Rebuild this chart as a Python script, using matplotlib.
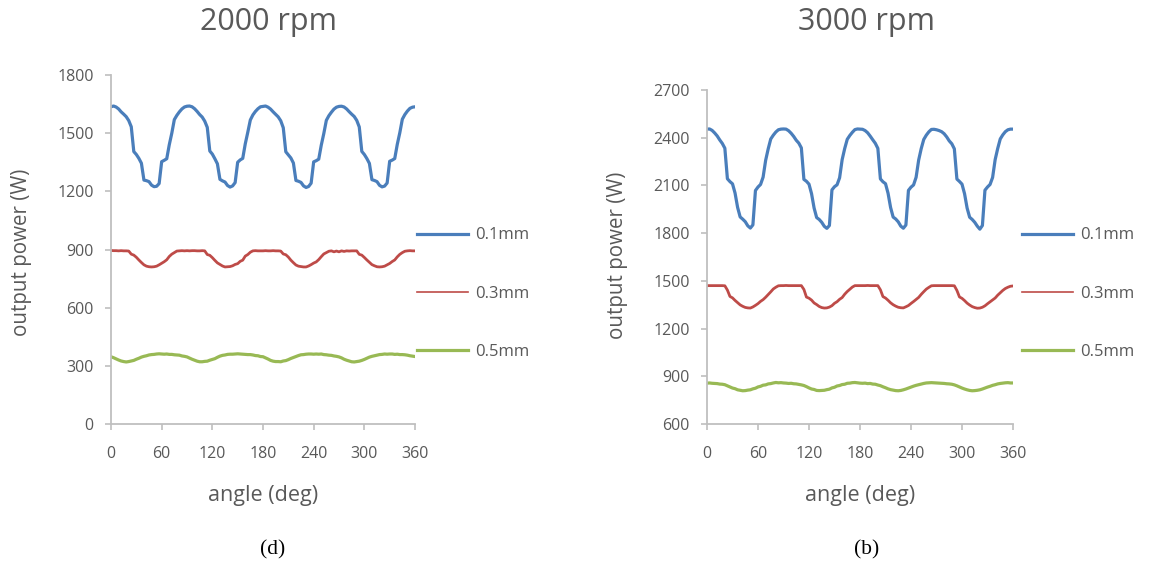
import matplotlib
matplotlib.use('Agg')
import matplotlib.pyplot as plt
from matplotlib.lines import Line2D

plt.rcParams['font.family'] = ['Open Sans', 'DejaVu Sans']

# angle grid (deg), one reading every 3 degrees
angle = list(range(0, 361, 3))

# 2000 rpm, output power (W)
p2000_01 = [1636,1640,1635,1625,1610,1598,1585,1565,1533,1405,1390,1370,1345,1258,1255,1250,1232,1224,1226,1240,1353,1360,1368,1440,1500,1570,1592,1610,1625,1635,
            1639,1640,1636,1626,1612,1596,1583,1562,1530,1408,1392,1368,1342,1262,1254,1248,1230,1222,1228,1245,1350,1362,1370,1445,1505,1568,1594,1612,1626,1636,
            1638,1640,1634,1624,1610,1597,1584,1564,1528,1404,1388,1372,1346,1256,1252,1246,1228,1220,1225,1242,1352,1358,1366,1438,1498,1566,1590,1608,1624,1634,
            1638,1639,1635,1625,1611,1598,1586,1566,1532,1406,1390,1369,1344,1260,1256,1250,1231,1223,1227,1243,1355,1361,1369,1442,1502,1572,1596,1614,1628,1634,
            1636]
p2000_03 = [895,894,894,893,894,893,893,892,876,871,860,846,833,821,814,811,810,811,814,821,829,837,847,864,876,884,892,893,894,893,
            894,893,894,894,893,893,894,893,874,870,858,844,831,823,815,810,811,812,816,823,827,839,845,866,874,886,893,894,893,893,
            893,894,893,893,894,893,893,892,877,873,861,845,832,820,814,812,810,810,815,822,830,836,848,863,877,884,891,893,888,892,
            888,893,890,893,892,893,893,893,875,871,859,846,834,822,816,811,810,811,814,821,828,838,846,862,875,884,891,893,894,893,
            893]
p2000_05 = [347,342,336,330,325,322,320,322,325,328,334,339,345,349,352,356,358,359,361,362,361,360,361,359,359,357,356,355,351,349,
            346,340,334,329,324,321,321,323,324,329,333,337,344,350,354,356,359,360,360,361,362,361,360,359,358,358,356,353,352,348,
            347,341,335,328,324,322,322,321,325,327,332,338,343,348,353,357,358,360,361,361,360,361,360,361,358,357,355,354,351,349,
            346,341,334,329,325,321,320,322,324,328,333,339,345,349,352,355,358,359,361,360,361,361,359,360,358,358,357,355,352,350,
            348]

# 3000 rpm, output power (W)
p3000_01 = [2454,2455,2446,2430,2411,2386,2364,2334,2142,2124,2110,2052,1962,1902,1888,1872,1846,1832,1852,2068,2090,2106,2152,2258,2330,2392,2416,2436,2450,2454,
            2455,2454,2444,2428,2408,2384,2366,2336,2138,2126,2108,2048,1958,1898,1886,1868,1843,1830,1848,2072,2092,2104,2148,2262,2332,2390,2414,2434,2451,2455,
            2454,2453,2445,2431,2410,2387,2365,2333,2141,2123,2111,2051,1961,1901,1889,1871,1844,1831,1851,2069,2089,2103,2151,2259,2331,2389,2416,2437,2452,2453,
            2450,2445,2438,2425,2405,2380,2362,2330,2140,2125,2108,2048,1958,1900,1886,1868,1844,1825,1848,2070,2090,2106,2150,2262,2332,2392,2418,2438,2450,2454,
            2454]
p3000_03 = [1470,1470,1470,1470,1470,1470,1470,1469,1442,1402,1393,1377,1363,1349,1340,1333,1330,1329,1336,1346,1357,1371,1382,1397,1414,1431,1449,1460,1469,1470,
            1470,1471,1470,1470,1470,1470,1470,1470,1446,1398,1391,1379,1361,1351,1339,1332,1329,1330,1335,1344,1359,1369,1384,1395,1416,1433,1447,1461,1470,1470,
            1470,1470,1470,1471,1470,1470,1470,1470,1444,1401,1392,1378,1362,1350,1341,1334,1331,1330,1337,1345,1358,1370,1383,1396,1415,1432,1448,1459,1469,1470,
            1470,1470,1470,1470,1470,1470,1470,1469,1440,1399,1390,1376,1360,1348,1338,1332,1328,1329,1334,1343,1356,1368,1380,1392,1410,1425,1440,1452,1460,1466,
            1468]
p3000_05 = [857,858,856,855,854,851,850,847,840,833,826,822,815,812,809,810,813,815,821,825,833,837,844,846,852,854,858,861,859,860,
            858,857,855,856,853,852,849,846,842,835,827,820,817,811,810,811,812,816,819,827,831,839,842,848,850,856,857,860,861,859,
            857,856,857,854,855,851,850,845,841,834,828,821,816,813,810,809,811,815,820,826,832,838,843,847,851,855,858,859,860,859,
            858,857,856,855,853,852,850,846,840,833,826,820,815,811,809,810,812,815,820,826,832,837,843,847,852,855,857,859,860,858,
            858]

gap_labels = ['0.1mm', '0.3mm', '0.5mm']
colors = ['#4A7EBB', '#BE4B48', '#98B954']
x_ticks = [0, 60, 120, 180, 240, 300, 360]

W, H = 1154, 570
fig = plt.figure(figsize=(W / 100, H / 100), dpi=100)

ax1 = fig.add_axes([111 / W, 1 - 424 / H, 304 / W, 349 / H])
ax2 = fig.add_axes([707 / W, 1 - 424 / H, 306 / W, 334 / H])

axis_grey = '#BFBFBF'
text_grey = '#595959'


def style_axes(ax, yticks):
    ax.set_xlim(0, 360)
    ax.set_ylim(yticks[0], yticks[-1])
    ax.set_xticks(x_ticks)
    ax.set_yticks(yticks)
    for s in ['top', 'right']:
        ax.spines[s].set_visible(False)
    for s in ['left', 'bottom']:
        ax.spines[s].set_color(axis_grey)
        ax.spines[s].set_linewidth(1.3)
    ax.tick_params(axis='y', direction='out', length=4.5, width=1.2, color=axis_grey,
                   labelcolor=text_grey, labelsize=11.5, pad=8)
    ax.tick_params(axis='x', direction='out', length=4.5, width=1.2, color=axis_grey,
                   labelcolor=text_grey, labelsize=11.5, pad=11)
    ax.patch.set_alpha(0)


# 2000 rpm
ax1.plot(angle, p2000_01, color=colors[0], lw=2.3, solid_joinstyle='round')
ax1.plot(angle, p2000_03, color=colors[1], lw=2.0, solid_joinstyle='round')
ax1.plot(angle, p2000_05, color=colors[2], lw=2.3, solid_joinstyle='round')
style_axes(ax1, [0, 300, 600, 900, 1200, 1500, 1800])

# 3000 rpm
ax2.plot(angle, p3000_01, color=colors[0], lw=2.3, solid_joinstyle='round')
ax2.plot(angle, p3000_03, color=colors[1], lw=2.0, solid_joinstyle='round')
ax2.plot(angle, p3000_05, color=colors[2], lw=2.3, solid_joinstyle='round')
style_axes(ax2, [600, 900, 1200, 1500, 1800, 2100, 2400, 2700])

# legends
handles = [Line2D([], [], color=colors[0], lw=2.3),
           Line2D([], [], color=colors[1], lw=1.2),
           Line2D([], [], color=colors[2], lw=2.3)]
for ax, lx in [(ax1, 417), (ax2, 1022)]:
    leg = ax.legend(handles, gap_labels, loc='center left',
                    bbox_to_anchor=(lx / W, 1 - 293.5 / H), bbox_transform=fig.transFigure,
                    frameon=False, fontsize=12, labelspacing=2.53, handlelength=3.06,
                    handletextpad=0.42, borderpad=0, borderaxespad=0)
    for t in leg.get_texts():
        t.set_color(text_grey)

# titles and axis labels
fig.text(268 / W, 1 - 22 / H, '2000 rpm', ha='center', va='center', fontsize=22, color=text_grey)
fig.text(867 / W, 1 - 22 / H, '3000 rpm', ha='center', va='center', fontsize=22, color=text_grey)
fig.text(22 / W, 1 - 252 / H, 'output power (W)', rotation=90, ha='center', va='center', fontsize=14.8, color=text_grey)
fig.text(618 / W, 1 - 255 / H, 'output power (W)', rotation=90, ha='center', va='center', fontsize=14.8, color=text_grey)
fig.text(263 / W, 1 - 495 / H, 'angle (deg)', ha='center', va='center', fontsize=15.5, color=text_grey)
fig.text(860 / W, 1 - 495 / H, 'angle (deg)', ha='center', va='center', fontsize=15.5, color=text_grey)

# sub-figure captions
fig.text(273 / W, 1 - 550 / H, '(d)', ha='center', va='center', fontsize=15.5, family='Liberation Serif', color='black')
fig.text(867 / W, 1 - 550 / H, '(b)', ha='center', va='center', fontsize=15.5, family='Liberation Serif', color='black')

fig.savefig('out.png', dpi=100, facecolor='white')
